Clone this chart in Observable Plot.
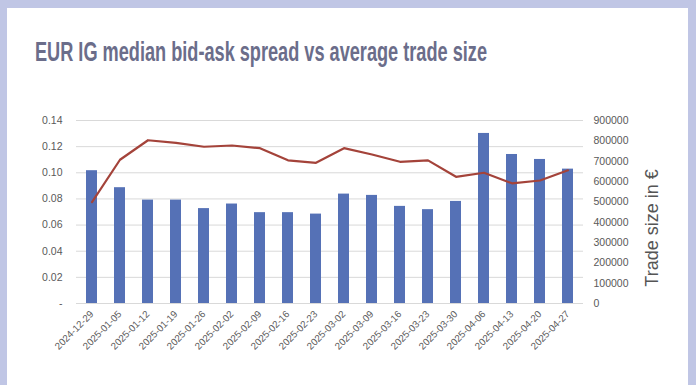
<!DOCTYPE html>
<html>
<head>
<meta charset="utf-8">
<script src="https://cdn.jsdelivr.net/npm/d3@7"></script>
<script src="https://cdn.jsdelivr.net/npm/@observablehq/plot@0.6"></script>
<style>
  html, body { margin: 0; padding: 0; background: #c0c6e5; }
  #wrap { position: relative; width: 696px; height: 385px; overflow: hidden; background: #c0c6e5; }
  #panel { position: absolute; left: 7px; top: 8px; width: 681px; height: 385px; background: #ffffff; }
  #title { position: absolute; left: 35px; top: 35px; font-family: "Liberation Sans", Arial, sans-serif; font-weight: bold; font-size: 27.5px; line-height: 34px; color: #6b6d8a; white-space: nowrap; transform-origin: 0 0; }
  #chart { position: absolute; left: 0; top: 0; }
</style>
</head>
<body>
<div id="wrap">
  <div id="panel"></div>
  <div id="title">EUR IG median bid-ask spread vs average trade size</div>
  <div id="chart"></div>
</div>
<script>
const weeks = ["2024-12-29","2025-01-05","2025-01-12","2025-01-19","2025-01-26","2025-02-02","2025-02-09","2025-02-16","2025-02-23","2025-03-02","2025-03-09","2025-03-16","2025-03-23","2025-03-30","2025-04-06","2025-04-13","2025-04-20","2025-04-27"];
const medianSpread = [0.1016,0.0886,0.0791,0.0791,0.0726,0.0761,0.0695,0.0695,0.0684,0.0837,0.0827,0.0743,0.0718,0.0781,0.1301,0.1140,0.1102,0.1028];
const avgTradeSize = [499000,707000,803000,790000,771000,777000,764000,704000,692000,764000,733000,697000,704000,623000,643000,591000,605000,655000];
const leftTicks = [0,0.02,0.04,0.06,0.08,0.10,0.12,0.14];
const rightTicks = [0,100000,200000,300000,400000,500000,600000,700000,800000,900000];
const leftMax = 0.14, rightMax = 900000;
const k = leftMax / rightMax;

const rows = weeks.map((w, i) => ({week: w, spread: medianSpread[i], size: avgTradeSize[i], sizeScaled: avgTradeSize[i] * k}));

const chart = Plot.plot({
  width: 696,
  height: 385,
  marginTop: 120,
  marginBottom: 82,
  marginLeft: 76,
  marginRight: 113,
  style: {background: "transparent", fontFamily: "Liberation Sans, Arial, sans-serif", color: "#595959"},
  x: {type: "band", domain: weeks, paddingInner: 0.59, paddingOuter: 0.295, label: null},
  y: {domain: [0, leftMax], label: null},
  marks: [
    Plot.gridY(leftTicks, {stroke: "#d9d9d9", strokeOpacity: 1, strokeWidth: 1}),
    Plot.barY(rows, {x: "week", y: "spread", fill: "#5571b6"}),
    Plot.line(rows, {x: "week", y: "sizeScaled", stroke: "#a4433a", strokeWidth: 2.2, curve: "linear"}),
    Plot.axisY(leftTicks, {anchor: "left", tickSize: 0, tickPadding: 14, fontSize: 10.5, tickFormat: d => d === 0 ? "-" : d.toFixed(2), label: null}),
    Plot.axisY(rightTicks.map(t => t * k), {anchor: "right", tickSize: 0, tickPadding: 10, fontSize: 10.5, tickFormat: d => String(Math.round(d / k / 100000) * 100000), label: null}),
    Plot.axisX({tickSize: 0, tickPadding: 9, tickRotate: -45, fontSize: 9.8, label: null}),
    Plot.text(["Trade size in \u20AC"], {frameAnchor: "right", textAnchor: "middle", dx: 69, dy: 16, rotate: -90, fontSize: 18, fill: "#555555"})
  ]
});
document.getElementById("chart").appendChild(chart);

const title = document.getElementById("title");
const w = title.getBoundingClientRect().width;
title.style.transform = `scaleX(${452 / w})`;
</script>
</body>
</html>
